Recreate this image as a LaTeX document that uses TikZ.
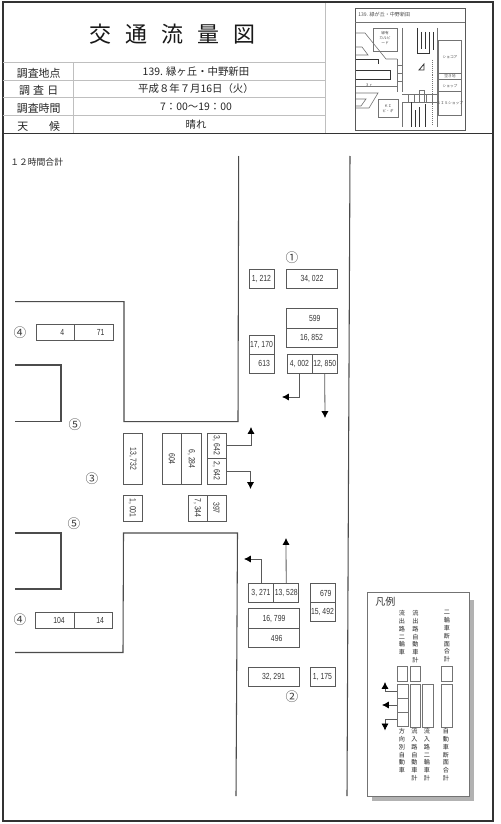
\documentclass[tikz,border=0pt]{standalone}
\usepackage{fontspec}
\setmainfont{Noto Sans CJK JP}
\newfontfamily\numfont[FakeStretch=0.78]{Liberation Sans}
\usetikzlibrary{arrows.meta,positioning}
\tikzset{
  framebox/.style={draw=black!80, line width=0.9pt},
  roadline/.style={draw=black!70, line width=0.8pt},
  headrule/.style={draw=black!25, line width=0.7pt},
  headlabel/.style={font=\fontsize{8.2}{10}\selectfont, text=black!85, inner sep=0pt},
  headvalue/.style={font=\fontsize{7.8}{10}\selectfont, text=black!85, inner sep=0pt},
  countbox/.style={draw=black!65, line width=0.6pt, inner sep=0pt, outer sep=0pt, text=black!80, font=\numfont\fontsize{6.6}{7}\selectfont},
  shortbox/.style={countbox, minimum width=18.9pt, minimum height=14.4pt},
  longbox/.style={countbox, minimum width=38.2pt, minimum height=14.6pt},
  westbox/.style={countbox, minimum width=28.9pt, minimum height=12.4pt},
  longrot/.style={countbox, rotate=-90, minimum width=38.2pt, minimum height=14.6pt},
  shortrot/.style={countbox, rotate=-90, minimum width=19.5pt, minimum height=14.4pt},
  flowarrow/.style={draw=black!65, line width=0.6pt, -{Latex[black,length=5.2pt,width=5.4pt]}},
  pointmark/.style={font=\fontsize{9.5}{10}\selectfont, text=black!75, inner sep=0pt},
  legendtext/.style={font=\fontsize{4.6}{5.9}\selectfont, text=black!85, inner sep=0pt, align=center, text width=7pt, anchor=north},
  legendbox/.style={draw=black!55, line width=0.5pt, inner sep=0pt, outer sep=0pt},
  mapline/.style={draw=black!55, line width=0.45pt},
  mapflow/.style={draw=black!80, line width=0.6pt},
  maptext/.style={font=\fontsize{2.8}{3.6}\selectfont, text=black!70, inner sep=0pt, align=center}
}
\begin{document}
\begin{tikzpicture}[x=0.75pt, y=-0.75pt]
  \useasboundingbox (0,0) rectangle (500,824);
  \fill[white] (0,0) rectangle (500,824);
  % frame and header
  \draw[framebox] (3,2) rectangle (493,821);
  \draw[framebox] (3,133.5) -- (493,133.5);
  \draw[headrule] (3,62.5) -- (325,62.5);
  \draw[headrule] (3,80) -- (325,80);
  \draw[headrule] (3,97.7) -- (325,97.7);
  \draw[headrule] (3,115) -- (325,115);
  \draw[headrule] (73.5,62.5) -- (73.5,133);
  \draw[headrule] (325,3) -- (325,133);
  \node[font=\fontsize{16.5}{18}\selectfont, text=black!90] (title) at (172.5,34) {交\hspace{0.64em}通\hspace{0.64em}流\hspace{0.64em}量\hspace{0.64em}図};
  \node[headlabel] (lab1) at (38.7,73) {調査地点};
  \node[headlabel] (lab2) at (38.7,90.7) {調\hspace{0.3em}査\hspace{0.3em}日};
  \node[headlabel] (lab3) at (38.7,108) {調査時間};
  \node[headlabel] (lab4) at (38.7,126) {天\hspace{1.9em}候};
  \node[headvalue] (val1) at (196,71.7) {139. 緑ヶ丘・中野新田};
  \node[headvalue] (val2) at (196,89) {平成８年７月16日（火）};
  \node[headvalue] (val3) at (196,106.7) {7：00〜19：00};
  \node[headvalue] (val4) at (196,124.3) {晴れ};
  \node[font=\fontsize{6.6}{7}\selectfont, text=black!85, anchor=west, inner sep=0pt] (total) at (10,162) {１２時間合計};

  % key map
  \draw[draw=black!65, line width=0.6pt] (355,8) rectangle (465,130);
  \draw[mapline] (355,22) -- (465,22);
  \node[maptext, anchor=west, font=\fontsize{3.8}{5}\selectfont] (maptitle) at (358,15) {139. 緑が丘・中野新田};
  \draw[mapline] (373,28) rectangle (397,51);
  \node[maptext] (mapa) at (385,38) {緑有\\カルビ\\ード};
  \draw[mapline] (356,33) -- (365,33) -- (386,59) -- (397,59);
  \draw[mapline] (356,47) -- (362,47) -- (368,55) -- (356,55);
  \draw[mapflow] (356,59) -- (378,59) -- (378,64);
  \draw[mapflow] (356,70) -- (390,70) -- (390,79) -- (356,79);
  \draw[mapline] (356,86) -- (397,86) -- (397,91);
  \draw[mapline] (397,59) -- (397,92);
  \draw[mapline] (402,28) -- (402,92);
  \draw[mapline] (397,65) -- (402,65) (397,73) -- (402,73) (397,81) -- (402,81);
  \draw[mapline] (356,93) -- (378,93) -- (369,108) -- (356,108);
  \draw[mapline] (356,99) -- (366,99) -- (361,106) -- (356,106);
  \draw[mapline] (378,99) rectangle (398,117);
  \node[maptext] (mapb) at (388,109) {ＫＩ\\ビ・ギ};
  \draw[mapline] (402,102) -- (402,127);
  \draw[mapline] (402,94) -- (437,94) (402,102) -- (437,102);
  \draw[mapline] (408,94) -- (408,102) (414,94) -- (414,102) (426,94) -- (426,102) (432,94) -- (432,102);
  \draw[mapline] (419,102) -- (419,90) -- (424,90) -- (424,102);
  \draw[mapline] (437,28) -- (437,127);
  \draw[mapline, densely dotted] (432,60) -- (432,125);
  \draw[mapflow] (417,28) -- (417,53) -- (429,53) -- (429,32);
  \draw[mapflow] (421,32) -- (421,49) (425,32) -- (425,49) (433,32) -- (433,50);
  \draw[mapline] (438,40) rectangle (461,73);
  \draw[mapline] (438,73) rectangle (461,79);
  \draw[mapline] (438,79) rectangle (461,91);
  \draw[mapline] (438,91) rectangle (461,115);
  \node[maptext] (mapc) at (450,57) {ショコア};
  \node[maptext] (mapd) at (450,76) {空き地};
  \node[maptext] (mape) at (450,86) {ショップ};
  \node[maptext] (mapf) at (450,103) {ＳＩＳショップ};
  \draw[mapflow] (419,70) -- (424,64) -- (424,70) -- cycle;
  \draw[mapflow] (411,102) -- (411,127) (415,110) -- (415,127) (419,107) -- (419,127) (425,104) -- (425,127);
  \node[maptext] (mapg) at (369,85) {３ｒ};

  % roads
  \draw[roadline] (238.7,156) -- (238,421.7) -- (124,421.7) -- (124,301.7) -- (15,301.7);
  \draw[roadline] (350,156) -- (347,796);
  \draw[roadline] (15,365) -- (61,365) -- (61,421.5) -- (15,421.5);
  \draw[roadline] (15,533) -- (61,533) -- (61,589) -- (15,589);
  \draw[roadline] (15,652.5) -- (123,652.5) -- (123.5,533) -- (237.5,533) -- (236,796);

  % north arm
  \node[pointmark] (pt1) at (292,258) {①};
  \node[shortbox] (nA) at (261.5,279) {1, 212};
  \node[longbox] (nB) at (312,279) {34, 022};
  \node[longbox] (nC) at (311.5,318.5) {\hspace{5pt}599};
  \node[longbox, below=0pt of nC] (nD) {16, 852\hspace{9pt}};
  \node[shortbox] (nE) at (261.5,344.5) {17, 170};
  \node[shortbox, below=0pt of nE] (nF) {\hspace{4pt}613};
  \node[shortbox] (nG) at (299.5,363.5) {4, 002};
  \node[shortbox, right=0pt of nG] (nH) {12, 850};
  \coordinate (nGend) at (282,397);
  \coordinate (nHend) at (325,418);
  \draw[flowarrow] (nG.south) |- (nGend);
  \draw[flowarrow] (nH.south) -- (nHend);

  % crossing
  \node[pointmark] (pt5a) at (75,425) {⑤};
  \node[pointmark] (pt3) at (92,479) {③};
  \node[pointmark] (pt5b) at (74,524) {⑤};
  \node[longrot] (cA) at (133,459) {13, 732};
  \node[shortrot] (cB) at (132.5,508) {1, 001};
  \node[longrot] (cC) at (172,459) {604};
  \node[longrot] (cD) at (191.5,459) {6, 284};
  \node[shortrot, minimum width=18.9pt] (cE) at (216.5,445.5) {3, 642};
  \node[shortrot, minimum width=19.6pt] (cF) at (216.5,471) {2, 642};
  \node[shortrot] (cG) at (197.5,508) {7, 344};
  \node[shortrot] (cH) at (216.5,508) {397};
  \coordinate (cEend) at (251,427);
  \coordinate (cFend) at (250.5,489);
  \draw[flowarrow] (cE.north) -| (cEend);
  \draw[flowarrow] (cF.north) -| (cFend);

  % west arms
  \node[pointmark] (pt4a) at (20,333) {④};
  \node[westbox] (wA) at (55.5,332.5) {\hspace{10pt}4};
  \node[westbox, right=0pt of wA] (wB) {\hspace{10pt}71};
  \node[pointmark] (pt4b) at (20,619.5) {④};
  \node[westbox] (wC) at (55,620.5) {\hspace{6pt}104};
  \node[westbox, right=0pt of wC] (wD) {\hspace{10pt}14};

  % south arm
  \node[shortbox] (sA) at (261,593) {3, 271};
  \node[shortbox, right=0pt of sA] (sB) {13, 528};
  \node[longbox] (sC) at (274,618.5) {16, 799\hspace{6pt}};
  \node[longbox, below=0pt of sC] (sD) {\hspace{4pt}496};
  \node[shortbox] (sE) at (322.5,593) {\hspace{5pt}679};
  \node[shortbox, below=0pt of sE] (sF) {15, 492};
  \node[longbox] (sG) at (273.5,677) {32, 291};
  \node[shortbox] (sH) at (322.5,677) {1, 175};
  \node[pointmark] (pt2) at (292,697) {②};
  \coordinate (sAend) at (244,559);
  \coordinate (sBend) at (286,538);
  \draw[flowarrow] (sA.north) |- (sAend);
  \draw[flowarrow] (sB.north) -- (sBend);

  % legend
  \fill[black!30] (372,600) rectangle (474,801);
  \draw[draw=black!55, fill=white, line width=0.5pt] (367,592) rectangle (469.5,796.5);
  \node[font=\fontsize{7.5}{8}\selectfont, text=black!80, anchor=west, inner sep=0pt] (legtitle) at (375,602) {凡例};
  \node[legendtext] (legA) at (402,610) {流\\出\\路\\二\\輪\\車};
  \node[legendtext] (legB) at (415.5,610) {流\\出\\路\\自\\動\\車\\計};
  \node[legendtext] (legC) at (447,610) {二\\輪\\車\\断\\面\\合\\計};
  \node[legendbox, minimum width=8pt, minimum height=11pt] (topA) at (402.3,673.5) {};
  \node[legendbox, minimum width=8pt, minimum height=11pt] (topB) at (415.3,673.5) {};
  \node[legendbox, minimum width=8pt, minimum height=11pt] (topC) at (446.5,673.5) {};
  \node[legendbox, minimum width=8pt, minimum height=10.5pt] (boxA) at (402.5,691) {};
  \node[legendbox, minimum width=8pt, minimum height=10.5pt, below=0pt of boxA] (boxB) {};
  \node[legendbox, minimum width=8pt, minimum height=10.5pt, below=0pt of boxB] (boxC) {};
  \node[legendbox, minimum width=8pt, minimum height=32pt] (boxD) at (415.3,705.5) {};
  \node[legendbox, minimum width=8pt, minimum height=32pt] (boxE) at (427.8,705.5) {};
  \node[legendbox, minimum width=8pt, minimum height=32pt] (boxF) at (446.5,705.5) {};
  \coordinate (boxAend) at (385,682);
  \coordinate (boxBend) at (382,705);
  \coordinate (boxCend) at (385,730.5);
  \draw[flowarrow] (boxA.west) -| (boxAend);
  \draw[flowarrow] (boxB.west) -- (boxBend);
  \draw[flowarrow] (boxC.west) -| (boxCend);
  \node[legendtext] (legD) at (402,728) {方\\向\\別\\自\\動\\車};
  \node[legendtext] (legE) at (414.5,728) {流\\入\\路\\自\\動\\車\\計};
  \node[legendtext] (legF) at (427,728) {流\\入\\路\\二\\輪\\車\\計};
  \node[legendtext] (legG) at (446,728) {自\\動\\車\\断\\面\\合\\計};
\end{tikzpicture}
\end{document}
